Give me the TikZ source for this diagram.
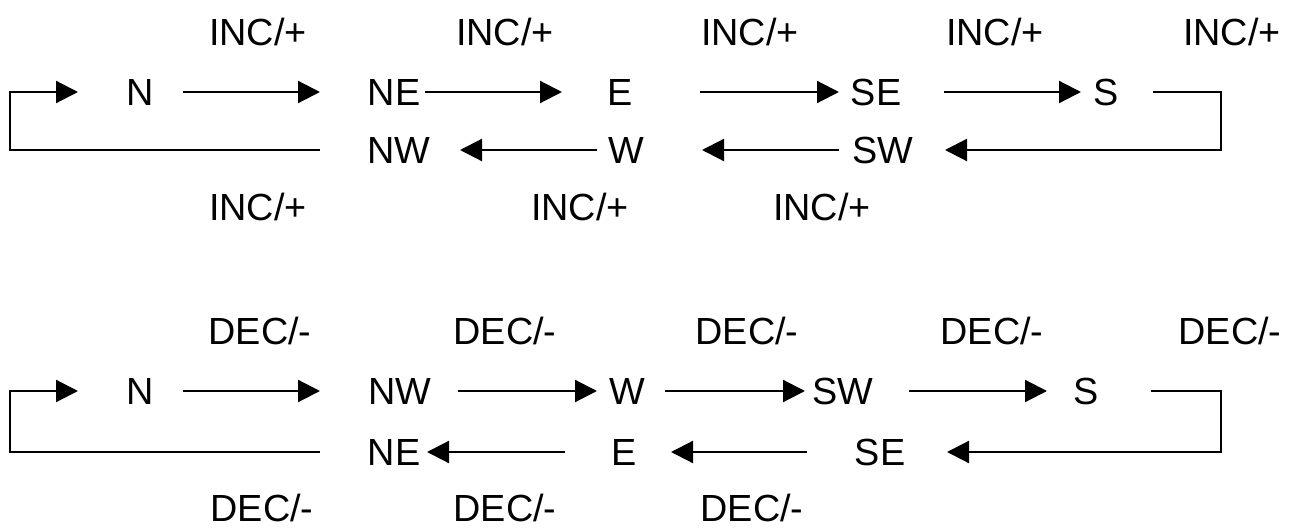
\documentclass[tikz,border=0pt]{standalone}
\usepackage{fontspec}
\setmainfont{Liberation Sans}
\usetikzlibrary{arrows.meta}
\tikzset{
  lbl/.style={inner sep=0pt, text height=13.5pt, text depth=0pt, font=\fontsize{18.9pt}{22pt}\selectfont},
  arr/.style={line width=1.1pt, -{Triangle[length=11pt,width=11pt]}},
  ln/.style={line width=1.1pt}
}
\begin{document}
\begin{tikzpicture}[x=0.5pt,y=-0.5pt]
\path[use as bounding box] (0,0) rectangle (1292,530);
% ---------- top block ----------
\node[lbl] (tN)  at (140,92) {N};
\node[lbl] (tNE) at (394,92) {NE};
\node[lbl] (tE)  at (620,92) {E};
\node[lbl] (tSE) at (876,92) {SE};
\node[lbl] (tS)  at (1106,92) {S};
\node[lbl] (tNW) at (399,150) {NW};
\node[lbl] (tW)  at (626,150) {W};
\node[lbl] (tSW) at (883,150) {SW};
\coordinate (tR1) at (1221,92);
\coordinate (tR2) at (1221,150);
\coordinate (tL1) at (10,150);
\coordinate (tL2) at (10,92);
\node[lbl] (i1) at (258,32) {INC/+};
\node[lbl] (i2) at (505,32) {INC/+};
\node[lbl] (i3) at (750,32) {INC/+};
\node[lbl] (i4) at (995,32) {INC/+};
\node[lbl] (i5) at (1232,32) {INC/+};
\node[lbl] (i6) at (258,207) {INC/+};
\node[lbl] (i7) at (580,207) {INC/+};
\node[lbl] (i8) at (822,207) {INC/+};
\draw[arr, shorten <=21.5pt, shorten >=37pt] (tN.center) -- (tNE.center);
\draw[arr, shorten <=15.5pt, shorten >=29pt] (tNE.center) -- (tE.center);
\draw[arr, shorten <=40pt, shorten >=18.5pt] (tE.center) -- (tSE.center);
\draw[arr, shorten <=34pt, shorten >=12.5pt] (tSE.center) -- (tS.center);
\draw[arr, shorten <=23.5pt, shorten >=31pt] (tS.center) -- (tR1) -- (tR2) -- (tSW.center);
\draw[arr, shorten <=22pt, shorten >=38pt] (tSW.center) -- (tW.center);
\draw[arr, shorten <=14.5pt, shorten >=30.5pt] (tW.center) -- (tNW.center);
\draw[arr, shorten <=39.5pt, shorten >=31pt] (tNW.center) -- (tL1) -- (tL2) -- (tN.center);
% ---------- bottom block ----------
\node[lbl] (bN)  at (140,391) {N};
\node[lbl] (bNW) at (400,391) {NW};
\node[lbl] (bW)  at (627,391) {W};
\node[lbl] (bSW) at (843,391) {SW};
\node[lbl] (bS)  at (1086,391) {S};
\node[lbl] (bNE) at (394,452) {NE};
\node[lbl] (bE)  at (624,452) {E};
\node[lbl] (bSE) at (880,452) {SE};
\coordinate (bR1) at (1221,391);
\coordinate (bR2) at (1221,452);
\coordinate (bL1) at (10,452);
\coordinate (bL2) at (10,391);
\node[lbl] (d1) at (260,331) {DEC/-};
\node[lbl] (d2) at (505,331) {DEC/-};
\node[lbl] (d3) at (747,331) {DEC/-};
\node[lbl] (d4) at (992,331) {DEC/-};
\node[lbl] (d5) at (1230,331) {DEC/-};
\node[lbl] (d6) at (262,508) {DEC/-};
\node[lbl] (d7) at (505,508) {DEC/-};
\node[lbl] (d8) at (752,508) {DEC/-};
\draw[arr, shorten <=21.5pt, shorten >=40pt] (bN.center) -- (bNW.center);
\draw[arr, shorten <=29pt, shorten >=15pt] (bNW.center) -- (bW.center);
\draw[arr, shorten <=19pt, shorten >=19pt] (bW.center) -- (bSW.center);
\draw[arr, shorten <=33pt, shorten >=19.5pt] (bSW.center) -- (bS.center);
\draw[arr, shorten <=32.5pt, shorten >=33.5pt] (bS.center) -- (bR1) -- (bR2) -- (bSE.center);
\draw[arr, shorten <=36.5pt, shorten >=23.5pt] (bSE.center) -- (bE.center);
\draw[arr, shorten <=29.5pt, shorten >=16.5pt] (bE.center) -- (bNE.center);
\draw[arr, shorten <=37pt, shorten >=31pt] (bNE.center) -- (bL1) -- (bL2) -- (bN.center);
\end{tikzpicture}
\end{document}
